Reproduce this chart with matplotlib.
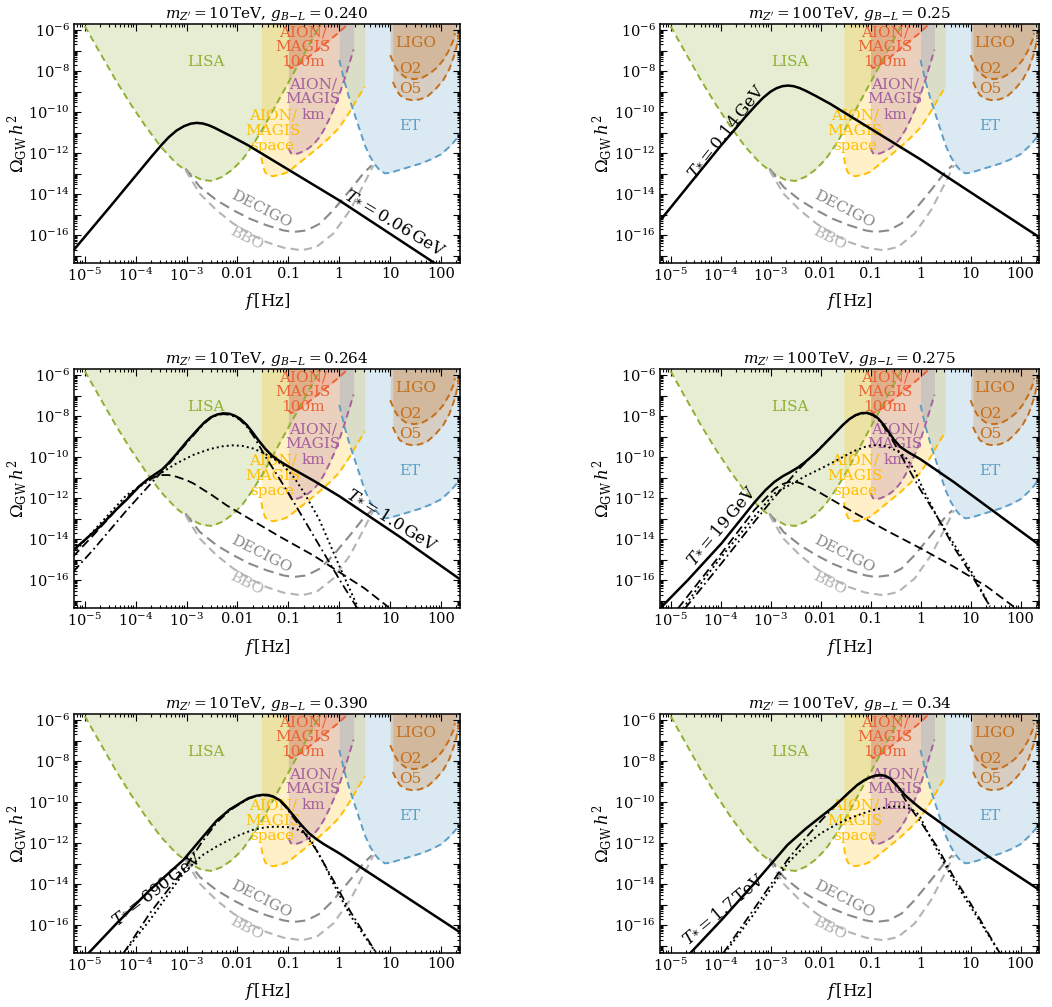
import numpy as np
import matplotlib
matplotlib.use('Agg')
import matplotlib.pyplot as plt
from matplotlib.ticker import FixedLocator, FixedFormatter, NullFormatter

plt.rcParams['font.family'] = ['DejaVu Serif']
plt.rcParams['mathtext.fontset'] = 'dejavuserif'

# ---------------- detector sensitivity curves (log10 f[Hz], log10 Omega h^2) ----
LISA_LOGF = [-5.0, -4.7, -4.4, -4.1, -3.8, -3.5, -3.2, -2.9, -2.7, -2.5, -2.3, -2.1, -1.9, -1.7, -1.5, -1.3, -1.1, -0.9, -0.7, -0.5, -0.35]
LISA_LOGO = [-5.8, -7.1, -8.4, -9.6, -10.7, -11.7, -12.5, -13.05, -13.3, -13.35, -13.15, -12.8, -12.3, -11.6, -10.8, -9.9, -9.0, -8.1, -7.2, -6.3, -5.65]

SPACE_LOGF = [-1.53, -1.50, -1.45, -1.38, -1.30, -1.15, -1.0, -0.8, -0.64, -0.4, -0.2, 0.0, 0.2, 0.34, 0.5]
SPACE_LOGO = [-12.2, -12.65, -12.95, -13.08, -13.12, -13.05, -12.9, -12.5, -12.18, -11.7, -11.25, -10.75, -10.0, -9.4, -8.75]

KM_LOGF = [-1.0, -0.95, -0.88, -0.8, -0.7, -0.6, -0.5, -0.4, -0.3, -0.2, -0.1, 0.0, 0.1, 0.2, 0.28]
KM_LOGO = [-11.75, -12.0, -12.05, -12.0, -11.9, -11.75, -11.55, -11.25, -10.85, -10.35, -9.8, -9.15, -8.4, -7.6, -6.95]

M100_LOGF = [-1.0, -0.95, -0.9, -0.75, -0.6, -0.45, -0.3, -0.15, 0.0, 0.15]
M100_LOGO = [-7.7, -7.85, -7.8, -7.6, -7.3, -7.0, -6.7, -6.4, -6.1, -5.75]

ET_LOGF = [0.0, 0.1, 0.2, 0.3, 0.4, 0.5, 0.6, 0.7, 0.8, 0.9, 1.0, 1.2, 1.4, 1.6, 1.8, 2.0, 2.2, 2.3, 2.4]
ET_LOGO = [-7.45, -8.5, -9.35, -10.1, -10.85, -11.6, -12.15, -12.55, -12.85, -12.98, -12.95, -12.8, -12.65, -12.5, -12.3, -12.05, -11.6, -11.3, -10.9]

O2_LOGF = [1.0, 1.08, 1.16, 1.3, 1.46, 1.62, 1.78, 1.92, 2.04, 2.15, 2.24, 2.27]
O2_LOGO = [-7.22, -7.7, -8.03, -8.3, -8.39, -8.33, -8.11, -7.82, -7.46, -7.0, -6.49, -6.15]

O5_LOGF = [1.05, 1.12, 1.19, 1.3, 1.42, 1.57, 1.72, 1.88, 2.04, 2.16, 2.27, 2.37]
O5_LOGO = [-8.52, -8.9, -9.17, -9.35, -9.41, -9.38, -9.25, -8.9, -8.44, -7.9, -7.14, -6.08]

DECIGO_LOGF = [-3.02, -2.74, -2.41, -2.08, -1.76, -1.43, -1.10, -0.90, -0.64, -0.38, -0.12, 0.21, 0.47, 0.635]
DECIGO_LOGO = [-12.75, -13.64, -14.29, -14.78, -15.19, -15.51, -15.76, -15.84, -15.76, -15.43, -14.78, -13.80, -12.99, -12.59]

BBO_LOGF = [-3.02, -2.74, -2.41, -2.08, -1.76, -1.43, -1.10, -0.74, -0.45, -0.12, 0.21, 0.47, 0.67]
BBO_LOGO = [-12.83, -13.97, -14.78, -15.43, -15.92, -16.33, -16.6, -16.73, -16.57, -15.92, -14.78, -13.56, -12.59]

# ---------------- GW spectra in each panel ----------------
P1_SOLID_LOGF = [-5.21, -4.5, -4.0, -3.7, -3.5, -3.35, -3.2, -3.05, -2.92, -2.8, -2.68, -2.56, -2.44, -2.3, -2.1, -1.8, -1.5, -1.0, 0.0, 1.0, 1.9]
P1_SOLID_LOGO = [-16.7, -14.6, -13.1, -12.2, -11.62, -11.22, -10.9, -10.68, -10.56, -10.52, -10.55, -10.64, -10.77, -10.95, -11.2, -11.6, -12.05, -12.8, -14.3, -15.93, -17.4]

P2_SOLID_LOGF = [-5.18, -4.6, -4.0, -3.7, -3.5, -3.3, -3.15, -3.0, -2.88, -2.76, -2.65, -2.54, -2.42, -2.3, -2.1, -1.8, -1.5, -1.0, 0.0, 1.0, 2.38]
P2_SOLID_LOGO = [-15.2, -13.45, -11.65, -10.8, -10.22, -9.68, -9.3, -9.0, -8.83, -8.73, -8.7, -8.73, -8.82, -8.95, -9.2, -9.6, -10.05, -10.8, -12.3, -13.9, -16.1]

P3_SOLID_LOGF = [-5.21, -4.7, -4.4, -4.18, -3.92, -3.75, -3.6, -3.48, -3.36, -3.2, -3.0, -2.8, -2.65, -2.52, -2.4, -2.28, -2.16, -2.05, -1.95, -1.82, -1.7, -1.58, -1.45, -1.32, -1.18, -1.0, -0.5, 0.0, 1.2, 2.37]
P3_SOLID_LOGO = [-14.5, -13.38, -12.6, -12.08, -11.4, -11.05, -10.8, -10.6, -10.3, -9.85, -9.25, -8.7, -8.3, -8.05, -7.92, -7.86, -7.88, -7.98, -8.12, -8.42, -8.8, -9.2, -9.6, -9.93, -10.18, -10.45, -11.15, -11.9, -13.9, -15.95]
P3_DASHED_LOGF = [-5.23, -4.83, -4.5, -4.18, -3.95, -3.78, -3.62, -3.48, -3.35, -3.2, -3.0, -2.87, -2.5, -2.21, -1.56, -1.17, -0.5, 0.0, 0.5, 0.96]
P3_DASHED_LOGO = [-14.85, -13.8, -12.9, -12.0, -11.45, -11.15, -10.96, -10.87, -10.87, -10.95, -11.12, -11.27, -11.85, -12.35, -13.3, -13.87, -14.8, -15.6, -16.4, -17.3]
P3_DOTTED_LOGF = [-5.23, -4.83, -4.18, -3.65, -3.19, -2.87, -2.54, -2.3, -2.1, -1.9, -1.7, -1.5, -1.3, -1.1, -0.9, -0.7, -0.4, 0.0, 0.37]
P3_DOTTED_LOGO = [-14.7, -13.6, -11.85, -11.0, -10.29, -9.89, -9.6, -9.47, -9.42, -9.45, -9.57, -9.78, -10.05, -10.4, -10.95, -11.7, -13.0, -15.3, -17.35]
P3_DASHDOT_LOGF = [-5.23, -4.83, -4.18, -3.78, -3.33, -3.0, -2.8, -2.65, -2.52, -2.4, -2.28, -2.16, -2.05, -1.95, -1.82, -1.69, -1.56, -1.43, -1.2, -1.0, -0.5, 0.0, 0.35]
P3_DASHDOT_LOGO = [-15.6, -14.5, -12.6, -11.5, -10.29, -9.32, -8.75, -8.35, -8.08, -7.95, -7.9, -7.93, -8.03, -8.18, -8.5, -8.95, -9.5, -10.05, -10.95, -11.75, -13.85, -15.95, -17.35]

P4_SOLID_LOGF = [-5.18, -4.65, -3.98, -3.6, -3.32, -3.1, -2.92, -2.75, -2.6, -2.45, -2.3, -2.1, -1.9, -1.7, -1.55, -1.42, -1.3, -1.18, -1.06, -0.95, -0.85, -0.75, -0.65, -0.53, -0.4, -0.25, 0.0, 0.66, 1.33, 2.38]
P4_SOLID_LOGO = [-17.3, -15.98, -14.2, -13.05, -12.2, -11.6, -11.2, -10.92, -10.72, -10.5, -10.22, -9.8, -9.3, -8.8, -8.42, -8.14, -7.95, -7.85, -7.84, -7.93, -8.1, -8.38, -8.72, -9.15, -9.5, -9.75, -10.1, -11.2, -12.4, -14.28]
P4_DASHED_LOGF = [-4.85, -3.98, -3.32, -2.92, -2.78, -2.65, -2.55, -2.42, -2.25, -1.99, -1.33, -0.66, 0.0, 0.66, 1.33, 1.86]
P4_DASHED_LOGO = [-17.37, -14.68, -12.57, -11.55, -11.33, -11.22, -11.19, -11.25, -11.42, -11.76, -12.7, -13.6, -14.44, -15.33, -16.31, -17.28]
P4_DOTTED_LOGF = [-4.75, -4.3, -3.98, -3.32, -2.92, -2.5, -2.32, -1.99, -1.66, -1.33, -1.06, -0.85, -0.66, -0.45, -0.3, -0.13, 0.1, 0.33, 0.66, 1.0, 1.39]
P4_DOTTED_LOGO = [-17.37, -15.85, -14.85, -12.89, -11.76, -11.2, -10.94, -10.55, -10.13, -9.7, -9.45, -9.4, -9.48, -9.72, -10.0, -10.6, -11.8, -12.89, -14.2, -15.5, -17.28]
P4_DASHDOT_LOGF = [-4.71, -3.98, -3.32, -2.92, -2.46, -1.99, -1.7, -1.55, -1.42, -1.3, -1.18, -1.06, -0.95, -0.85, -0.75, -0.6, -0.45, -0.3, 0.0, 0.33, 0.66, 1.0, 1.39]
P4_DASHDOT_LOGO = [-17.37, -15.17, -13.14, -11.95, -10.65, -9.5, -8.8, -8.42, -8.14, -7.96, -7.87, -7.86, -7.96, -8.15, -8.45, -9.0, -9.65, -10.3, -11.59, -12.89, -14.36, -15.66, -17.28]

P5_SOLID_LOGF = [-4.93, -4.37, -3.72, -3.06, -2.7, -2.41, -2.15, -1.95, -1.78, -1.62, -1.5, -1.4, -1.3, -1.17, -1.05, -0.9, -0.75, -0.6, -0.45, -0.3, 0.0, 1.19, 2.40]
P5_SOLID_LOGO = [-17.37, -15.9, -14.28, -12.81, -11.75, -10.9, -10.35, -10.05, -9.8, -9.68, -9.64, -9.65, -9.72, -9.9, -10.2, -10.65, -11.1, -11.5, -11.8, -12.05, -12.49, -14.42, -16.39]
P5_DOTTED_LOGF = [-4.24, -3.72, -3.06, -2.7, -2.41, -2.15, -1.95, -1.7, -1.45, -1.23, -1.0, -0.8, -0.64, -0.5, -0.3, -0.12, 0.21, 0.73]
P5_DOTTED_LOGO = [-17.37, -15.74, -13.46, -12.6, -12.16, -11.82, -11.59, -11.35, -11.22, -11.19, -11.22, -11.35, -11.59, -12.1, -13.0, -13.95, -15.5, -17.37]
P5_DASHDOT_LOGF = [-4.24, -3.72, -3.06, -2.7, -2.41, -2.15, -1.95, -1.78, -1.62, -1.5, -1.4, -1.3, -1.17, -1.05, -0.9, -0.77, -0.6, -0.45, -0.12, 0.21, 0.73]
P5_DASHDOT_LOGO = [-17.37, -15.41, -13.30, -11.95, -11.0, -10.4, -10.08, -9.83, -9.7, -9.66, -9.67, -9.74, -9.92, -10.25, -10.75, -11.2, -11.8, -12.33, -13.79, -15.3, -17.37]

P6_SOLID_LOGF = [-4.61, -3.98, -3.32, -2.66, -2.3, -1.99, -1.78, -1.59, -1.42, -1.26, -1.12, -1.0, -0.9, -0.8, -0.7, -0.6, -0.5, -0.4, -0.3, -0.15, 0.0, 0.66, 1.33, 2.38]
P6_SOLID_LOGO = [-17.37, -15.74, -13.95, -12.08, -11.3, -10.70, -10.3, -9.89, -9.5, -9.15, -8.92, -8.78, -8.7, -8.67, -8.72, -8.85, -9.1, -9.4, -9.68, -10.0, -10.3, -11.45, -12.6, -14.28]
P6_DOTTED_LOGF = [-3.92, -3.32, -2.66, -2.3, -1.99, -1.66, -1.33, -1.1, -0.93, -0.73, -0.53, -0.35, -0.2, -0.08, 0.0, 0.15, 0.33, 0.66, 1.0, 1.59]
P6_DOTTED_LOGO = [-17.37, -15.41, -12.98, -12.1, -11.51, -11.05, -10.70, -10.5, -10.37, -10.27, -10.21, -10.22, -10.32, -10.5, -10.75, -11.5, -12.33, -13.79, -15.09, -17.37]
P6_DASHDOT_LOGF = [-3.95, -3.32, -2.66, -2.3, -1.99, -1.78, -1.59, -1.42, -1.26, -1.12, -1.0, -0.9, -0.8, -0.7, -0.6, -0.45, -0.3, -0.15, 0.0, 0.33, 0.66, 1.0, 1.59]
P6_DASHDOT_LOGO = [-17.37, -15.17, -12.81, -11.75, -10.9, -10.35, -9.9, -9.5, -9.17, -8.93, -8.8, -8.72, -8.69, -8.74, -8.88, -9.3, -9.9, -10.45, -10.95, -12.16, -13.63, -14.93, -17.37]

TITLES = [r"$m_{Z'} = 10\,\mathrm{TeV}$, $g_{B\!-\!L} = 0.240$",
          r"$m_{Z'} = 100\,\mathrm{TeV}$, $g_{B\!-\!L} = 0.25$",
          r"$m_{Z'} = 10\,\mathrm{TeV}$, $g_{B\!-\!L} = 0.264$",
          r"$m_{Z'} = 100\,\mathrm{TeV}$, $g_{B\!-\!L} = 0.275$",
          r"$m_{Z'} = 10\,\mathrm{TeV}$, $g_{B\!-\!L} = 0.390$",
          r"$m_{Z'} = 100\,\mathrm{TeV}$, $g_{B\!-\!L} = 0.34$"]
TSTAR_LABELS = [r"$T_{*} = 0.06\,\mathrm{GeV}$", r"$T_{*} = 0.14\,\mathrm{GeV}$",
                r"$T_{*} = 1.0\,\mathrm{GeV}$", r"$T_{*} = 19\,\mathrm{GeV}$",
                r"$T_{*} = 690\,\mathrm{GeV}$", r"$T_{*} = 1.7\,\mathrm{TeV}$"]
# label position (log f, log Omega) and rotation
TSTAR_POS = [(1.1, -15.35, -31), (-3.9, -10.9, 52), (1.05, -13.0, -32),
             (-4.0, -13.3, 50), (-3.6, -14.2, 38), (-3.95, -15.15, 40)]

XTICK_VALUES = [-5, -4, -3, -2, -1, 0, 1, 2]
XTICK_LABELS = [r"$10^{-5}$", r"$10^{-4}$", r"$10^{-3}$", "0.01", "0.1", "1", "10", "100"]
YTICK_VALUES = list(range(-17, -5))
YTICK_LABELS = [r"$10^{%d}$" % v if v % 2 == 0 else "" for v in YTICK_VALUES]

C_LISA = '#8fb032'; C_SPACE = '#ffbf00'; C_KM = '#a5609d'; C_100 = '#eb6235'
C_ET = '#5d9ec7'; C_LIGO = '#c56e1a'; C_DEC = '#8a8a8a'; C_BBO = '#b4b4b4'

panels = [
    dict(solid=(P1_SOLID_LOGF, P1_SOLID_LOGO)),
    dict(solid=(P2_SOLID_LOGF, P2_SOLID_LOGO)),
    dict(solid=(P3_SOLID_LOGF, P3_SOLID_LOGO), dashed=(P3_DASHED_LOGF, P3_DASHED_LOGO),
         dotted=(P3_DOTTED_LOGF, P3_DOTTED_LOGO), dashdot=(P3_DASHDOT_LOGF, P3_DASHDOT_LOGO)),
    dict(solid=(P4_SOLID_LOGF, P4_SOLID_LOGO), dashed=(P4_DASHED_LOGF, P4_DASHED_LOGO),
         dotted=(P4_DOTTED_LOGF, P4_DOTTED_LOGO), dashdot=(P4_DASHDOT_LOGF, P4_DASHDOT_LOGO)),
    dict(solid=(P5_SOLID_LOGF, P5_SOLID_LOGO),
         dotted=(P5_DOTTED_LOGF, P5_DOTTED_LOGO), dashdot=(P5_DASHDOT_LOGF, P5_DASHDOT_LOGO)),
    dict(solid=(P6_SOLID_LOGF, P6_SOLID_LOGO),
         dotted=(P6_DOTTED_LOGF, P6_DOTTED_LOGO), dashdot=(P6_DASHDOT_LOGF, P6_DASHDOT_LOGO)),
]

W, H = 1052, 1007
fig = plt.figure(figsize=(W / 100, H / 100), dpi=100)
fig.patch.set_facecolor('white')

col_x = [(74, 460), (660, 1039)]
row_y = [(24, 263), (369, 608), (714, 953)]
YLABEL_X = [18, 603]

XMIN, XMAX = 10 ** -5.21, 10 ** 2.37
YMIN, YMAX = 10 ** -17.35, 10 ** -5.7
TOP = 1e-3


def p(a):
    return 10.0 ** np.asarray(a, dtype=float)


def region(ax, lf, lo, color):
    ax.fill_between(p(lf), p(lo), TOP, color=color, alpha=0.22, lw=0, zorder=1)
    ax.plot(p(lf), p(lo), color=color, lw=1.4, ls=(0, (3.5, 2.2)), zorder=2)


for i, pan in enumerate(panels):
    r, c = divmod(i, 2)
    x0, x1 = col_x[c]
    y0, y1 = row_y[r]
    ax = fig.add_axes([x0 / W, 1 - y1 / H, (x1 - x0) / W, (y1 - y0) / H])
    ax.set_xscale('log'); ax.set_yscale('log')
    ax.set_xlim(XMIN, XMAX); ax.set_ylim(YMIN, YMAX)

    region(ax, LISA_LOGF, LISA_LOGO, C_LISA)
    region(ax, SPACE_LOGF, SPACE_LOGO, C_SPACE)
    region(ax, KM_LOGF, KM_LOGO, C_KM)
    region(ax, M100_LOGF, M100_LOGO, C_100)
    region(ax, ET_LOGF, ET_LOGO, C_ET)
    region(ax, O2_LOGF, O2_LOGO, C_LIGO)
    region(ax, O5_LOGF, O5_LOGO, C_LIGO)
    ax.plot(p(DECIGO_LOGF), p(DECIGO_LOGO), color=C_DEC, lw=1.5, ls=(0, (5, 2.8)), zorder=2)
    ax.plot(p(BBO_LOGF), p(BBO_LOGO), color=C_BBO, lw=1.5, ls=(0, (4, 2.5)), zorder=2)

    fs = 11
    ax.text(10 ** -2.61, 10 ** -7.54, 'LISA', color=C_LISA, fontsize=fs, ha='center', va='center', zorder=3)
    ax.text(10 ** -0.71, 10 ** -6.83, 'AION/\nMAGIS\n100m', color=C_100, fontsize=fs, ha='center', va='center',
            linespacing=1.1, zorder=3)
    ax.text(10 ** -0.51, 10 ** -9.38, 'AION/\nMAGIS\nkm', color=C_KM, fontsize=fs, ha='center', va='center',
            linespacing=1.1, zorder=3)
    ax.text(10 ** -1.31, 10 ** -10.91, 'AION/\nMAGIS\nspace', color=C_SPACE, fontsize=fs, ha='center', va='center',
            linespacing=1.1, zorder=3)
    ax.text(10 ** 1.39, 10 ** -10.68, 'ET', color=C_ET, fontsize=fs, ha='center', va='center', zorder=3)
    ax.text(10 ** 1.49, 10 ** -6.65, 'LIGO', color=C_LIGO, fontsize=fs, ha='center', va='center', zorder=3)
    ax.text(10 ** 1.39, 10 ** -7.87, 'O2', color=C_LIGO, fontsize=fs, ha='center', va='center', zorder=3)
    ax.text(10 ** 1.39, 10 ** -8.85, 'O5', color=C_LIGO, fontsize=fs, ha='center', va='center', zorder=3)
    ax.text(10 ** -1.53, 10 ** -14.75, 'DECIGO', color=C_DEC, fontsize=fs, ha='center', va='center',
            rotation=-27, rotation_mode='anchor', zorder=3)
    ax.text(10 ** -1.82, 10 ** -16.15, 'BBO', color=C_BBO, fontsize=fs, ha='center', va='center',
            rotation=-27, rotation_mode='anchor', zorder=3)

    if 'dashed' in pan:
        ax.plot(p(pan['dashed'][0]), p(pan['dashed'][1]), color='black', lw=1.3, ls=(0, (5, 2.5)), zorder=4)
    if 'dotted' in pan:
        ax.plot(p(pan['dotted'][0]), p(pan['dotted'][1]), color='black', lw=1.4, ls=(0, (1, 1.6)), zorder=4)
    if 'dashdot' in pan:
        ax.plot(p(pan['dashdot'][0]), p(pan['dashdot'][1]), color='black', lw=1.3, ls=(0, (5, 2, 1, 2)), zorder=4)
    ax.plot(p(pan['solid'][0]), p(pan['solid'][1]), color='black', lw=1.8, zorder=5,
            solid_joinstyle='round')

    lf, lo, rot = TSTAR_POS[i]
    ax.text(10 ** lf, 10 ** lo, TSTAR_LABELS[i], fontsize=12, ha='center', va='center',
            rotation=rot, rotation_mode='anchor', zorder=6)

    ax.set_title(TITLES[i], fontsize=11, pad=4)
    ax.set_xlabel(r"$f\,$[Hz]", fontsize=12)
    ax.set_ylabel(r"$\Omega_{\mathrm{GW}}\,h^2$", fontsize=12)
    ax.xaxis.set_label_coords(0.5, -39.0 / (y1 - y0))
    ax.xaxis.label.set_verticalalignment('center')
    ax.yaxis.set_label_coords((YLABEL_X[c] - x0) / (x1 - x0), 0.5)
    ax.yaxis.label.set_verticalalignment('center')

    ax.xaxis.set_major_locator(FixedLocator(p(XTICK_VALUES)))
    ax.xaxis.set_major_formatter(FixedFormatter(XTICK_LABELS))
    xminor = [m * 10.0 ** d for d in range(-6, 3) for m in range(2, 10)]
    ax.xaxis.set_minor_locator(FixedLocator(xminor))
    ax.xaxis.set_minor_formatter(NullFormatter())
    ax.yaxis.set_major_locator(FixedLocator(p(YTICK_VALUES)))
    ax.yaxis.set_major_formatter(FixedFormatter(YTICK_LABELS))
    yminor = [m * 10.0 ** d for d in range(-18, -5) for m in range(2, 10)]
    ax.yaxis.set_minor_locator(FixedLocator(yminor))
    ax.yaxis.set_minor_formatter(NullFormatter())
    ax.tick_params(which='both', direction='in', top=True, right=True, labelsize=10.5, width=0.8)
    ax.tick_params(which='major', length=5, pad=3)
    ax.tick_params(which='minor', length=2.5)
    for s in ax.spines.values():
        s.set_linewidth(1.1)

fig.savefig('out.png', dpi=100, facecolor='white')
